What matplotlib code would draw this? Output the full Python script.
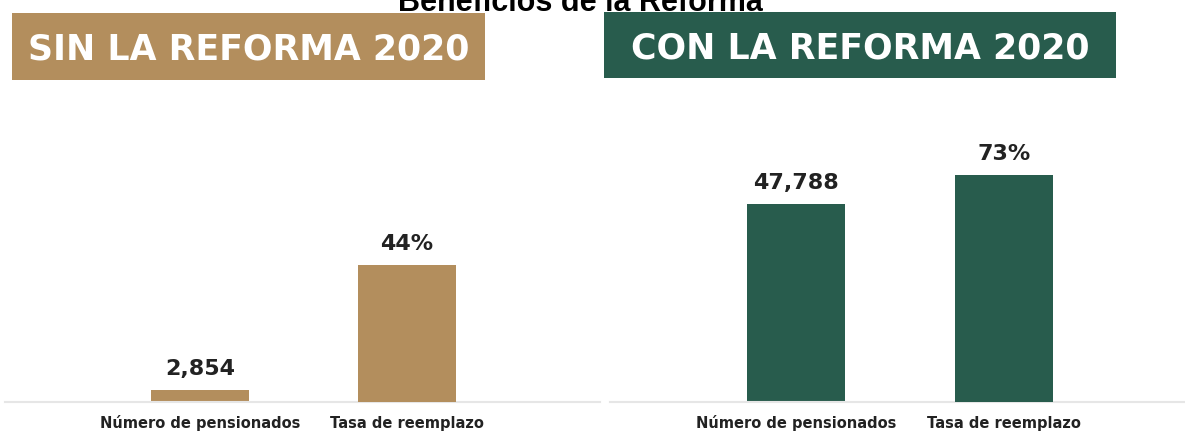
import matplotlib
matplotlib.use('Agg')
import matplotlib.pyplot as plt
from matplotlib.patches import Rectangle

# data
categorias = ['Número de pensionados', 'Tasa de reemplazo']
sin_reforma = [2854, 44]
con_reforma = [47788, 73]
etiquetas_sin = ['2,854', '44%']
etiquetas_con = ['47,788', '73%']
titulo = 'Beneficios de la Reforma'
encabezados = ['SIN LA REFORMA 2020', 'CON LA REFORMA 2020']

dorado = '#B38E5D'
verde = '#285C4D'

W, H = 1185, 434
fig = plt.figure(figsize=(W / 100, H / 100), dpi=100)


def px(x0, y0, x1, y1):
    # pixel box (top-left origin) -> figure fraction [left, bottom, w, h]
    return [x0 / W, 1 - y1 / H, (x1 - x0) / W, (y1 - y0) / H]


def panel(rect, valores, etiquetas, color, xlim):
    ax = fig.add_axes(rect)
    ax2 = ax.twinx()
    ax.bar(0, valores[0], width=0.47, color=color)
    ax2.bar(1, valores[1], width=0.47, color=color)
    ax.set_ylim(0, 72890)
    ax2.set_ylim(0, 97.1)
    ax.set_xlim(*xlim)
    ax.annotate(etiquetas[0], (0, valores[0]), xytext=(0, 11), textcoords='offset points',
                ha='center', va='baseline', fontsize=16, fontweight='bold', color='#222222')
    ax2.annotate(etiquetas[1], (1, valores[1]), xytext=(0, 11), textcoords='offset points',
                 ha='center', va='baseline', fontsize=16, fontweight='bold', color='#222222')
    ax.set_xticks([0, 1])
    ax.set_xticklabels(categorias, fontsize=10.5, fontweight='bold', color='#222222')
    for lbl in ax.get_xticklabels():
        lbl.set_verticalalignment('baseline')
    ax.tick_params(axis='x', length=0, pad=19)
    ax.set_yticks([])
    ax2.set_yticks([])
    for a in (ax, ax2):
        for s in ('top', 'left', 'right'):
            a.spines[s].set_visible(False)
        a.spines['bottom'].set_color('#e6e6e6')
        a.spines['bottom'].set_linewidth(1.5)
    ax2.spines['bottom'].set_visible(False)
    return ax


panel(px(5, 100, 600, 402), sin_reforma, etiquetas_sin, dorado, (-0.942, 1.932))
panel(px(610, 100, 1185, 402), con_reforma, etiquetas_con, verde, (-0.894, 1.87))

# header boxes
for (x0, y0, x1, y1), txt, c in [((12, 13, 485, 80), encabezados[0], dorado),
                                 ((604, 12, 1116, 78), encabezados[1], verde)]:
    r = px(x0, y0, x1, y1)
    fig.add_artist(Rectangle((r[0], r[1]), r[2], r[3], transform=fig.transFigure,
                             facecolor=c, edgecolor='none'))
    fig.text(r[0] + r[2] / 2, r[1] + r[3] / 2, txt, ha='center', va='center_baseline',
             fontsize=25, fontweight='bold', color='white')

fig.text(580 / W, 1 - 11 / H, titulo, ha='center', va='baseline',
         fontsize=22, fontweight='bold', family='Liberation Sans', color='black')

fig.savefig('out.png', dpi=100)
